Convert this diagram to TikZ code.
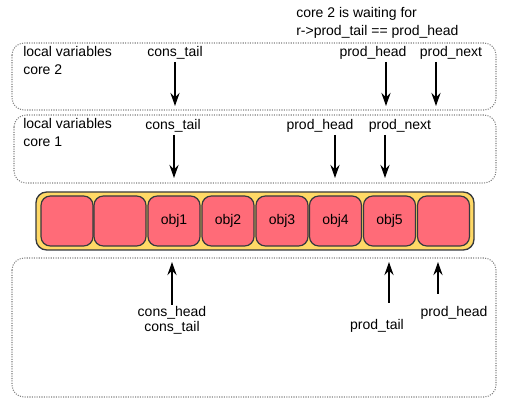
\documentclass[tikz,border=0pt]{standalone}
\usepackage{fontspec}
\setmainfont{Liberation Sans}
\usetikzlibrary{arrows.meta}
\definecolor{ringfill}{HTML}{FFD966}
\definecolor{cellfill}{HTML}{FF6B78}
\definecolor{boxline}{HTML}{808080}
\definecolor{darkline}{HTML}{36393D}
\begin{document}
\begin{tikzpicture}[x=0.75pt,y=-0.75pt,
  every node/.style={font=\fontsize{10.5}{13.5}\selectfont, inner sep=0pt},
  varbox/.style={draw=boxline, densely dotted, line width=0.8pt, rounded corners=9pt},
  ring/.style={draw=darkline, fill=ringfill, line width=1pt, rounded corners=8pt, minimum width=438*0.75pt, minimum height=58*0.75pt},
  cell/.style={draw=darkline, fill=cellfill, line width=0.9pt, rounded corners=7pt, minimum width=52*0.75pt, minimum height=50*0.75pt},
  ptr/.style={-{Stealth[length=10pt,width=7pt,inset=3.5pt]}, line width=1pt, black},
  lbl/.style={anchor=base}]
\useasboundingbox (0,0) rectangle (519,403);
% variable boxes
\draw[varbox] (12,43) rectangle (496,110);
\draw[varbox] (14,115) rectangle (496,183);
\draw[varbox] (12,258) rectangle (496,397);
% titles (base anchor = last line)
\node[anchor=base west, align=left] (t2) at (23,75) {local variables\\core 2};
\node[anchor=base west, align=left] (t1) at (23,147) {local variables\\core 1};
\node[anchor=base west] (t0) at (23,417) {local variables};
\node[anchor=base west, align=left] (wait) at (296,36) {core 2 is waiting for\\r->prod\_tail == prod\_head};
% ring
\node[ring] (ring) at (255,221) {};
\node[cell] (c1) at (67,221) {};
\node[cell] (c2) at (120,221) {};
\node[cell] (c3) at (174,221) {obj1};
\node[cell] (c4) at (228,221) {obj2};
\node[cell] (c5) at (282,221) {obj3};
\node[cell] (c6) at (335.5,221) {obj4};
\node[cell] (c7) at (389.5,221) {obj5};
\node[cell] (c8) at (443.5,221) {};
% core 2 pointers
\node[lbl] (ct2) at (175,57) {cons\_tail};
\node[lbl] (ph2) at (373,57) {prod\_head};
\node[lbl] (pn2) at (451,57) {prod\_next};
\coordinate (ct2s) at (175,62);
\coordinate (ph2s) at (386,62);
\coordinate (pn2s) at (436,62);
\coordinate (ct2e) at (175,106);
\coordinate (ph2e) at (386,106);
\coordinate (pn2e) at (436,106);
\draw[ptr] (ct2s) -- (ct2e);
\draw[ptr] (ph2s) -- (ph2e);
\draw[ptr] (pn2s) -- (pn2e);
% core 1 pointers
\node[lbl] (ct1) at (173,130) {cons\_tail};
\node[lbl] (ph1) at (320,130) {prod\_head};
\node[lbl] (pn1) at (400,130) {prod\_next};
\coordinate (ct1s) at (174,135);
\coordinate (ph1s) at (335,135);
\coordinate (pn1s) at (385,135);
\coordinate (ct1e) at (174,178);
\coordinate (ph1e) at (335,178);
\coordinate (pn1e) at (385,178);
\draw[ptr] (ct1s) -- (ct1e);
\draw[ptr] (ph1s) -- (ph1e);
\draw[ptr] (pn1s) -- (pn1e);
% shared pointers
\node[lbl, align=center] (ch) at (172,332) {cons\_head\\[-2.25pt]cons\_tail};
\node[lbl] (pt) at (377,330) {prod\_tail};
\node[lbl] (phs) at (454,317) {prod\_head};
\coordinate (chs) at (172,305);
\coordinate (pts) at (389,303);
\coordinate (phss) at (438,294);
\coordinate (che) at (172,262);
\coordinate (pte) at (389,262);
\coordinate (phse) at (438,262);
\draw[ptr] (chs) -- (che);
\draw[ptr] (pts) -- (pte);
\draw[ptr] (phss) -- (phse);
\end{tikzpicture}
\end{document}
